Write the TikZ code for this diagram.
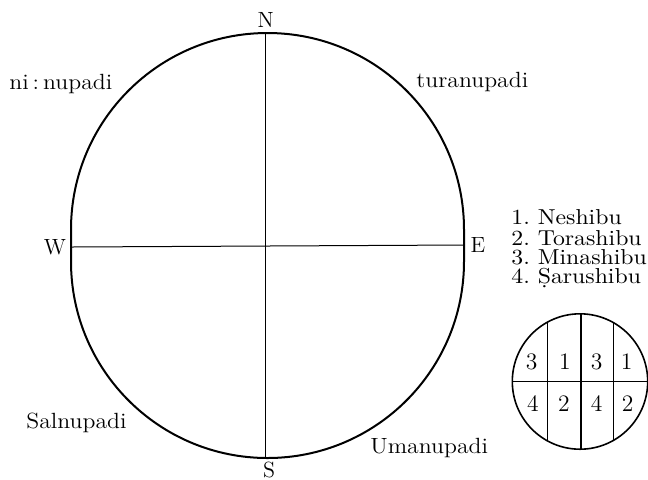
\documentclass[tikz,border=0pt]{standalone}
\usepackage{graphicx}
\newcommand\widetext[2]{\scalebox{#1}[1]{#2}}
\begin{document}
\begin{tikzpicture}[x=0.5pt,y=-0.5pt,
  lbl/.style={inner sep=0pt,font=\fontsize{11}{11}\selectfont},
  leg/.style={inner sep=0pt,anchor=base west,text height=7.5pt,text depth=1pt,font=\fontsize{10.8}{10.8}\selectfont},
  num/.style={inner sep=0pt,font=\fontsize{11.8}{11.8}\selectfont},
  outline/.style={line width=1pt},
  thin/.style={line width=0.5pt}]
\useasboundingbox (0,0) rectangle (648,479);
% big compass outline (stadium)
\draw[outline] (71,229.5) arc[start angle=180,end angle=360,radius=196.5]
  -- (464,261.5) arc[start angle=0,end angle=180,radius=196.5] -- cycle;
\coordinate (wp) at (71,247);
\coordinate (ep) at (464,245);
\coordinate (np) at (265.7,33);
\coordinate (sp) at (265.7,458);
\draw[thin] (wp) -- (ep);
\draw[thin] (np) -- (sp);
% cardinal labels
\node[lbl] (N) at (265.7,20) {N};
\node[lbl] (W) at (55,247) {W};
\node[lbl] (E) at (478,245) {E};
\node[lbl] (S) at (269,470) {S};
% quadrant labels
\node[lbl,anchor=base west] (nw) at (9,89) {\widetext{1.08}{ni\,:\,nupadi}};
\node[lbl,anchor=base west] (ne) at (416,87) {\widetext{1.08}{turanupadi}};
\node[lbl,anchor=base west] (sw) at (26,428) {\widetext{1.08}{Salnupadi}};
\node[lbl,anchor=base west] (se) at (370,453) {\widetext{1.08}{Umanupadi}};
% legend
\node[leg] (l1) at (511,224.3) {\widetext{1.1}{1.\ Neshibu}};
\node[leg] (l2) at (511,245) {\widetext{1.1}{2.\ Torashibu}};
\node[leg] (l3) at (511,264.7) {\widetext{1.1}{3.\ Minashibu}};
\node[leg] (l4) at (511,283.3) {\widetext{1.1}{4.\ \d{S}arushibu}};
% small circle
\coordinate (c) at (580,381.5);
\draw[line width=0.8pt] (c) circle[radius=67.7];
\coordinate (h1) at (512.3,381);
\coordinate (h2) at (647.7,381);
\draw[thin] (h1) -- (h2);
\coordinate (a1) at (547.7,322);
\coordinate (a2) at (547.7,441);
\coordinate (b1) at (580.7,313.8);
\coordinate (b2) at (580.7,449.2);
\coordinate (d1) at (613.3,322.6);
\coordinate (d2) at (613.3,440.4);
\draw[thin] (a1) -- (a2);
\draw[line width=1pt] (b1) -- (b2);
\draw[thin] (d1) -- (d2);
\node[num] (t1) at (531.7,361.7) {3};
\node[num] (t2) at (565,361.7) {1};
\node[num] (t3) at (596.7,361.7) {3};
\node[num] (t4) at (626.7,361.7) {1};
\node[num] (u1) at (533,403.3) {4};
\node[num] (u2) at (564,403.3) {2};
\node[num] (u3) at (596.7,403.3) {4};
\node[num] (u4) at (627.7,403.3) {2};
\end{tikzpicture}
\end{document}
